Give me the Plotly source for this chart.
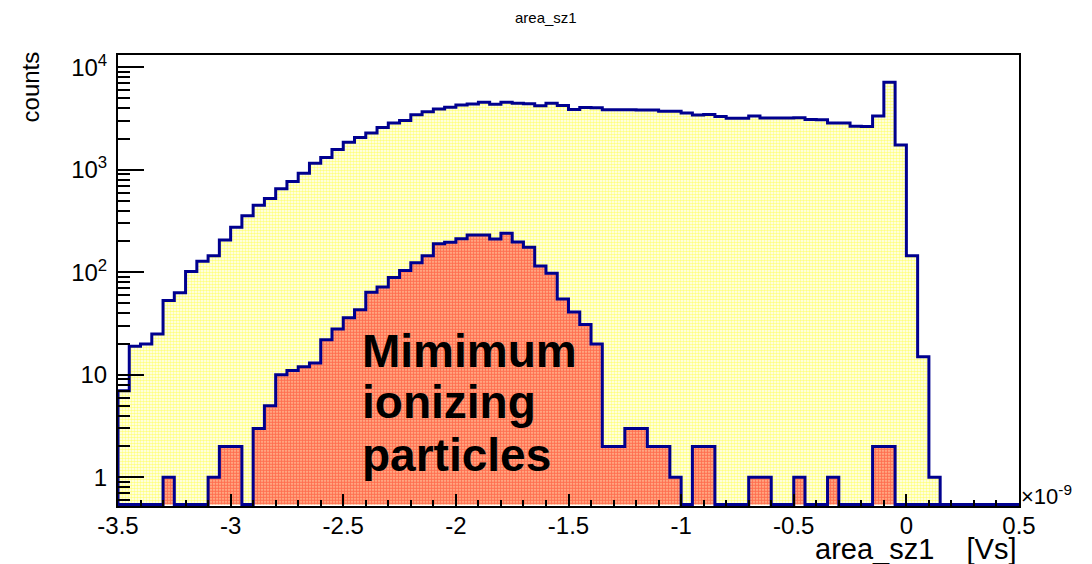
import numpy as np
import plotly.graph_objects as go

# Histogram binning: 80 bins of 0.05 (x 1e-9 Vs) between -3.5 and 0.5
x_min, x_max, n_bins = -3.5, 0.5, 80

# All events, per bin
all_counts = [
    7, 19, 20, 25, 53, 63, 102, 128, 145, 207,
    275, 356, 450, 524, 655, 768, 926, 1158, 1320, 1574,
    1860, 2070, 2290, 2590, 2860, 3030, 3450, 3690, 3920, 4074,
    4290, 4390, 4553, 4356, 4553, 4456, 4420, 4224, 4456, 4240,
    3870, 4050, 4030, 3850, 3850, 3850, 3840, 3840, 3720, 3720,
    3580, 3430, 3460, 3320, 3180, 3180, 3350, 3200, 3200, 3210,
    3220, 3100, 3080, 2860, 2860, 2660, 2650, 3350, 7140, 1747,
    145, 15, 1, 0, 0, 0, 0, 0, 0, 0,
]

# Selected minimum ionizing particle events, per bin
mip_counts = [
    0, 0, 0, 0, 1, 0, 0, 0, 1, 2,
    2, 0, 3, 5, 10, 11, 12, 13, 22, 28,
    36, 43, 64, 72, 89, 104, 124, 145, 190, 196,
    212, 231, 231, 211, 240, 198, 176, 115, 98, 55,
    41, 31, 20, 2, 2, 3, 3, 2, 2, 1,
    0, 2, 2, 0, 0, 0, 1, 1, 0, 0,
    1, 0, 0, 1, 0, 0, 0, 2, 2, 0,
    0, 0, 0, 0, 0, 0, 0, 0, 0, 0,
]

x_tick_vals = [-3.5, -3.0, -2.5, -2.0, -1.5, -1.0, -0.5, 0.0, 0.5]
x_tick_text = ["-3.5", "-3", "-2.5", "-2", "-1.5", "-1", "-0.5", "0", "0.5"]
y_tick_vals = [1, 10, 100, 1000, 10000]
y_tick_text = ["1", "10", "10<sup>2</sup>", "10<sup>3</sup>", "10<sup>4</sup>"]

label_lines = ["Mimimum", "ionizing", "particles"]

# log10 range of the count axis
log_lo, log_hi = -0.28, 4.12
# empty bins are drawn along the bottom of the frame
floor = 10 ** (log_lo + 0.014)

edges = np.linspace(x_min, x_max, n_bins + 1)

FONT = "Liberation Sans, Arial, Helvetica, sans-serif"
LINE = "#00008f"


def step_outline(counts):
    c = np.asarray(counts, dtype=float)
    c = np.where(c > 0, c, floor)
    xs = np.concatenate([[edges[0]], edges[:-1], [edges[-1]]])
    ys = np.concatenate([[floor], c, [floor]])
    return xs, ys


fig = go.Figure()

xs, ys = step_outline(all_counts)
fig.add_trace(go.Scatter(
    x=xs, y=ys, mode="lines", line=dict(shape="hv", color=LINE, width=3),
    fill="toself",
    fillpattern=dict(shape=".", fgcolor="#ffff00", bgcolor="#ffffff",
                     size=3, solidity=0.55),
    hoverinfo="skip", showlegend=False,
))

xs, ys = step_outline(mip_counts)
fig.add_trace(go.Scatter(
    x=xs, y=ys, mode="lines", line=dict(shape="hv", color=LINE, width=3),
    fill="toself",
    fillpattern=dict(shape=".", fgcolor="#ff1500", bgcolor="#ffc8a0",
                     size=3, solidity=0.7),
    hoverinfo="skip", showlegend=False,
))

minor_y = [m * 10 ** k for k in range(-1, 5) for m in range(2, 10)]

fig.update_xaxes(
    range=[x_min, x_max], tickmode="array", tickvals=x_tick_vals,
    ticktext=x_tick_text, ticks="inside", ticklen=12, tickwidth=2,
    tickcolor="black", showline=True, linecolor="black", linewidth=2,
    mirror=True, showgrid=False, zeroline=False,
    tickfont=dict(family=FONT, size=24, color="black"),
    ticklabelstandoff=-3,
    minor=dict(tickmode="linear", tick0=-3.5, dtick=0.1, ticks="inside",
               ticklen=6, tickwidth=2, tickcolor="black", showgrid=False),
)
fig.update_yaxes(
    type="log", range=[log_lo, log_hi], tickmode="array",
    tickvals=y_tick_vals, ticktext=y_tick_text, ticks="inside", ticklen=26,
    tickwidth=2, tickcolor="black", showline=True, linecolor="black",
    linewidth=2, mirror=True, showgrid=False, zeroline=False,
    tickfont=dict(family=FONT, size=24, color="black"),
    ticklabelstandoff=4,
    minor=dict(tickmode="array", tickvals=minor_y, ticks="inside",
               ticklen=12, tickwidth=2, tickcolor="black", showgrid=False),
)

annotations = [
    dict(text="area_sz1", xref="paper", yref="paper", x=0.475, y=1.0,
         xanchor="center", yanchor="bottom", yshift=27, showarrow=False,
         font=dict(family=FONT, size=15, color="black")),
    dict(text="counts", xref="paper", yref="paper", x=-0.0966, y=1.0,
         xanchor="center", yanchor="top", textangle=-90, yshift=6,
         showarrow=False, font=dict(family=FONT, size=24, color="black")),
    dict(text="area_sz1    [Vs]", xref="paper", yref="paper", x=1.0,
         y=-0.096, xanchor="right", yanchor="middle", showarrow=False,
         font=dict(family=FONT, size=29, color="black")),
    dict(text="\u00d710<sup>-9</sup>", xref="paper", yref="paper", x=1.0,
         y=0.025, xanchor="left", yanchor="middle", showarrow=False,
         font=dict(family=FONT, size=22, color="black")),
]
for line, yp in zip(label_lines, [0.3443, 0.2306, 0.112]):
    annotations.append(dict(
        text=line, xref="x", yref="paper", x=-2.425, y=yp,
        xanchor="left", yanchor="middle", showarrow=False,
        font=dict(family=FONT, size=46, color="black", weight="bold"),
    ))

fig.update_layout(
    width=1092, height=564,
    margin=dict(l=118, r=73, t=55, b=58),
    paper_bgcolor="white", plot_bgcolor="white",
    annotations=annotations,
)

fig.write_html("out.html")
